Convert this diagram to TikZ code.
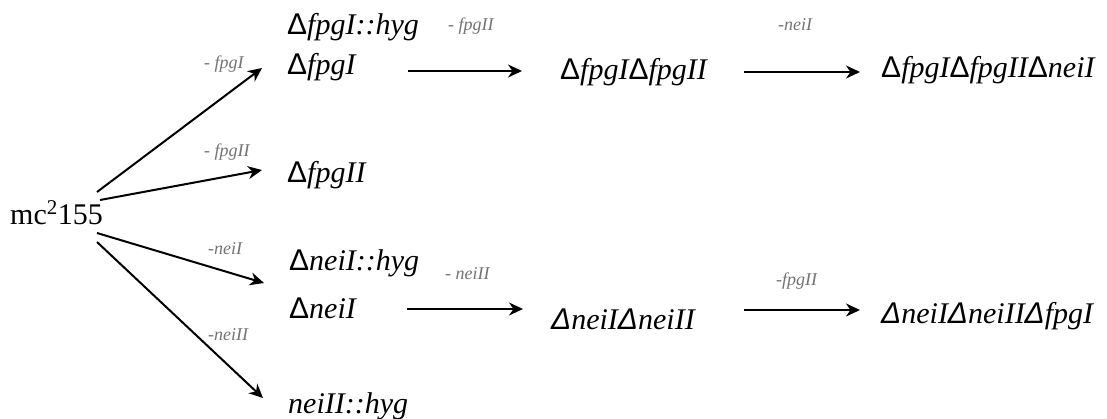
\documentclass[tikz,border=0pt]{standalone}
\usepackage{fontspec}
\setmainfont{Liberation Serif}
\newfontfamily\sansD{Liberation Sans}
\usetikzlibrary{arrows.meta}
\definecolor{lblgray}{RGB}{115,115,115}
\newcommand{\Dup}{{\sansD\upshape Δ}}
\newcommand{\Dit}{{\sansD\itshape Δ}}
\tikzset{
  strain/.style={anchor=base west, inner sep=0pt, font=\fontsize{30}{30}\selectfont\itshape},
  root/.style={anchor=base west, inner sep=0pt, font=\fontsize{30}{30}\selectfont},
  lbl/.style={anchor=base west, inner sep=0pt, text=lblgray, font=\fontsize{18}{18}\selectfont\itshape},
  conn/.style={line width=2pt, -{Stealth[length=14pt,width=13pt,inset=4.5pt]}}
}
\begin{document}
\begin{tikzpicture}[x=1pt,y=-1pt]
\useasboundingbox (0,0) rectangle (1107,418);
% nodes
\node[root] (mc) at (10,224) {mc\textsuperscript{2}155};
\node[strain] (fIhyg) at (287,34) {\Dup fpgI::hyg};
\node[strain] (fI) at (287,74) {\Dup fpgI};
\node[strain] (fIfII) at (560,79) {\Dup fpgI\Dup fpgII};
\node[strain] (fIfIInI) at (881,77) {\Dup fpgI\Dup fpgII\Dup neiI};
\node[strain] (fII) at (287,182) {\Dup fpgII};
\node[strain] (nIhyg) at (289,270) {\Dup neiI::hyg};
\node[strain] (nI) at (289,318) {\Dup neiI};
\node[strain] (nInII) at (551,329) {\Dit neiI\Dit neiII};
\node[strain] (nInIIfI) at (881,323) {\Dit neiI\Dit neiII\Dit fpgI};
\node[strain] (nIIhyg) at (288,413) {neiII::hyg};
% labels
\node[lbl] (l1) at (204,68) {- fpgI};
\node[lbl] (l2) at (204,156) {- fpgII};
\node[lbl] (l3) at (448,30) {- fpgII};
\node[lbl] (l4) at (778,30) {-neiI};
\node[lbl] (l5) at (208,254) {-neiI};
\node[lbl] (l6) at (208,340) {-neiII};
\node[lbl] (l7) at (445,279) {- neiII};
\node[lbl] (l8) at (776,285) {-fpgII};
% connector ends
\coordinate (a1s) at (97,192);  \coordinate (a1e) at (262,68);
\coordinate (a2s) at (100,200); \coordinate (a2e) at (262,170);
\coordinate (a3s) at (97,233);  \coordinate (a3e) at (264,283);
\coordinate (a4s) at (97,242);  \coordinate (a4e) at (263,398);
\coordinate (a5s) at (408,71);  \coordinate (a5e) at (522,71);
\coordinate (a6s) at (744,72);  \coordinate (a6e) at (860,72);
\coordinate (a7s) at (407,309); \coordinate (a7e) at (523,309);
\coordinate (a8s) at (744,310); \coordinate (a8e) at (860,310);
\draw[conn] (a1s) -- (a1e);
\draw[conn] (a2s) -- (a2e);
\draw[conn] (a3s) -- (a3e);
\draw[conn] (a4s) -- (a4e);
\draw[conn] (a5s) -- (a5e);
\draw[conn] (a6s) -- (a6e);
\draw[conn] (a7s) -- (a7e);
\draw[conn] (a8s) -- (a8e);
\end{tikzpicture}
\end{document}
